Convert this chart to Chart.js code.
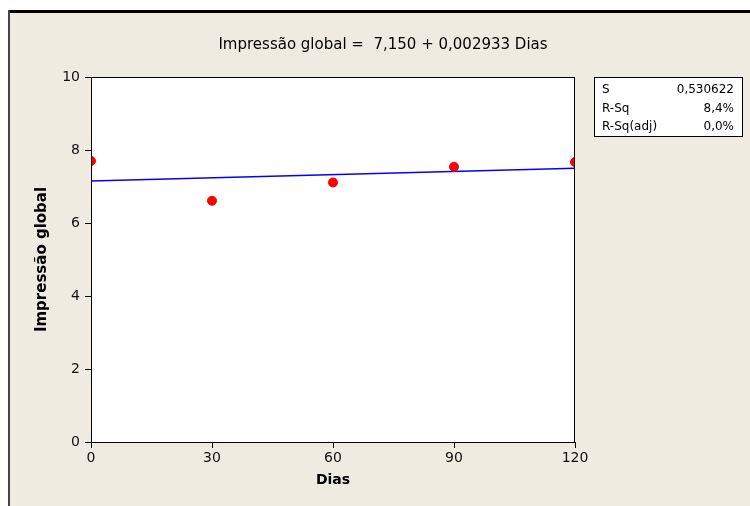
<!DOCTYPE html>
<html>
<head>
<meta charset="utf-8">
<script src="https://cdn.jsdelivr.net/npm/chart.js@4/dist/chart.umd.min.js"></script>
<style>
  html, body { margin: 0; padding: 0; background: #ffffff; }
  #wrap { width: 750px; height: 506px; }
</style>
</head>
<body>
<div id="wrap"><canvas id="grafico" width="750" height="506"></canvas></div>
<script>
// dados
const dias = [0, 30, 60, 90, 120];
const impressao = [7.70, 6.61, 7.11, 7.54, 7.67];
// reta ajustada: 7,150 + 0,002933 Dias
const diasAjuste = [0, 120];
const valoresAjuste = [7.150, 7.502];
const ticksX = [0, 30, 60, 90, 120];
const ticksY = [0, 2, 4, 6, 8, 10];
const titulo = "Impressão global =  7,150 + 0,002933 Dias";
const estatNomes = ["S", "R-Sq", "R-Sq(adj)"];
const estatValores = ["0,530622", "8,4%", "0,0%"];

const fonte = "'DejaVu Sans', sans-serif";

const fundo = {
  id: "fundo",
  beforeDraw(chart) {
    const ctx = chart.ctx;
    const a = chart.chartArea;
    ctx.save();
    ctx.fillStyle = "#ffffff";
    ctx.fillRect(0, 0, 750, 506);
    ctx.fillStyle = "#efebe1";
    ctx.fillRect(10, 13, 740, 493);
    ctx.fillStyle = "#000000";
    ctx.fillRect(8, 10, 742, 3);
    ctx.fillStyle = "#444444";
    ctx.fillRect(8, 10, 2, 496);
    ctx.fillStyle = "#ffffff";
    ctx.fillRect(a.left, a.top, a.right - a.left, a.bottom - a.top);
    ctx.restore();
  },
  afterDraw(chart) {
    const ctx = chart.ctx;
    const a = chart.chartArea;
    ctx.save();
    ctx.strokeStyle = "#000000";
    ctx.lineWidth = 1;
    ctx.strokeRect(a.left + 0.5, a.top + 0.5, a.right - a.left - 1, a.bottom - a.top);
    // titulo
    ctx.fillStyle = "#000000";
    ctx.font = "15px " + fonte;
    ctx.textAlign = "center";
    ctx.textBaseline = "middle";
    ctx.fillText(titulo, 383, 45);
    // caixa de estatisticas
    ctx.fillStyle = "#ffffff";
    ctx.fillRect(594, 77, 148, 59);
    ctx.strokeRect(594.5, 77.5, 148, 59);
    ctx.fillStyle = "#000000";
    ctx.font = "12px " + fonte;
    estatNomes.forEach((n, i) => {
      const y = 90 + i * 18.5;
      ctx.textAlign = "left";
      ctx.fillText(n, 602, y);
      ctx.textAlign = "right";
      ctx.fillText(estatValores[i], 734, y);
    });
    ctx.restore();
  }
};

const ctx = document.querySelector("#grafico");
new Chart(ctx, {
  type: "scatter",
  data: {
    datasets: [
      {
        label: "Ajuste",
        type: "line",
        data: diasAjuste.map((d, i) => ({ x: d, y: valoresAjuste[i] })),
        borderColor: "#0000ff",
        borderWidth: 1.5,
        pointRadius: 0,
        fill: false,
        order: 2
      },
      {
        label: "Impressão global",
        data: dias.map((d, i) => ({ x: d, y: impressao[i] })),
        backgroundColor: "#ff0000",
        borderColor: "#ff0000",
        pointRadius: 4.5,
        order: 1
      }
    ]
  },
  options: {
    responsive: false,
    animation: false,
    layout: { padding: { top: 77, right: 175, left: 0, bottom: 0 } },
    plugins: { legend: { display: false }, tooltip: { enabled: false } },
    scales: {
      x: {
        type: "linear",
        min: 0,
        max: 120,
        afterFit(s) { s.height = 64; },
        afterBuildTicks(s) { s.ticks = ticksX.map(v => ({ value: v })); },
        grid: { drawOnChartArea: false, drawTicks: true, tickLength: 6, color: "#000000" },
        border: { display: true, color: "#000000" },
        ticks: { padding: 2, color: "#111111", font: { family: fonte, size: 14 } },
        title: { display: true, text: "Dias", color: "#000000", padding: { top: 0, bottom: 17 },
                 font: { family: fonte, size: 14, weight: "bold" } }
      },
      y: {
        min: 0,
        max: 10,
        afterFit(s) { s.width = 91; },
        afterBuildTicks(s) { s.ticks = ticksY.map(v => ({ value: v })); },
        grid: { drawOnChartArea: false, drawTicks: true, tickLength: 6, color: "#000000" },
        border: { display: true, color: "#000000" },
        ticks: { padding: 5, color: "#111111", font: { family: fonte, size: 14 } },
        title: { display: true, text: "Impressão global", color: "#000000", padding: { top: 33, bottom: 0 },
                 font: { family: fonte, size: 15, weight: "bold" } }
      }
    }
  },
  plugins: [fundo]
});
</script>
</body>
</html>
